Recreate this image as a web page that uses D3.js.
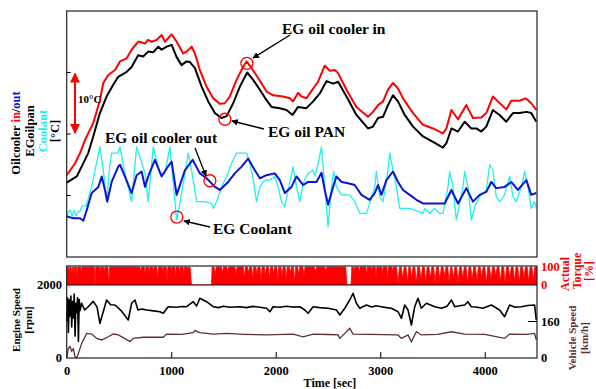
<!DOCTYPE html>
<html>
<head>
<meta charset="utf-8">
<script src="https://cdn.jsdelivr.net/npm/d3@7"></script>
<style>
  body { margin: 0; background: #fff; }
  svg { display: block; font-family: "Liberation Serif", "Times New Roman", serif; font-weight: bold; }
</style>
</head>
<body>
<svg id="chart" width="596" height="389"></svg>
<script>
// ---- data ----
// EG oil cooler in (red)
let oilInTime = [0, 79, 127, 175, 254, 318, 350, 398, 462, 510, 574, 621, 684, 701, 749, 777, 815, 860, 908, 940, 1004, 1052, 1115, 1147, 1195, 1227, 1274, 1338, 1402, 1466, 1513, 1561, 1625, 1688, 1721, 1769, 1832, 1912, 1975, 2071, 2135, 2166, 2214, 2247, 2294, 2358, 2405, 2469, 2517, 2565, 2597, 2677, 2772, 2883, 2931, 2979, 3027, 3074, 3122, 3170, 3218, 3314, 3409, 3505, 3600, 3633, 3681, 3744, 3824, 3887, 3967, 4015, 4078, 4126, 4206, 4254, 4333, 4391, 4445, 4493];
let oilInTemp = [53.3, 55.2, 56.9, 59.0, 61.8, 65.5, 68.3, 69.6, 70.4, 71.8, 72.3, 73.7, 75.0, 75.0, 74.7, 75.3, 75.0, 75.3, 76.1, 75.0, 76.2, 75.0, 73.1, 73.4, 74.2, 73.1, 70.4, 67.7, 65.8, 64.9, 65.0, 66.1, 68.8, 70.9, 71.8, 70.7, 69.1, 66.9, 66.3, 66.1, 65.8, 65.3, 66.7, 66.1, 65.8, 67.4, 68.5, 71.1, 70.3, 70.4, 69.9, 67.2, 64.4, 62.8, 63.6, 64.7, 65.3, 67.2, 68.3, 67.4, 65.8, 63.4, 61.5, 60.9, 60.1, 60.9, 63.9, 62.4, 64.7, 62.6, 62.7, 63.4, 66.1, 65.3, 64.0, 65.4, 65.4, 65.8, 65.0, 63.9];

// EG oil pan (black)
let oilPanTime = [0, 96, 143, 206, 254, 318, 382, 445, 493, 574, 621, 684, 732, 780, 828, 876, 908, 956, 1004, 1052, 1099, 1147, 1179, 1227, 1291, 1354, 1418, 1482, 1530, 1593, 1657, 1727, 1784, 1848, 1912, 1960, 2039, 2103, 2161, 2214, 2294, 2358, 2422, 2486, 2549, 2597, 2677, 2772, 2883, 2931, 2979, 3027, 3074, 3122, 3170, 3234, 3314, 3409, 3505, 3600, 3633, 3681, 3744, 3808, 3872, 3920, 3967, 4015, 4078, 4142, 4206, 4270, 4333, 4398, 4445, 4493];
let oilPanTemp = [52.1, 53.1, 54.7, 56.9, 59.6, 63.4, 66.1, 68.0, 69.3, 70.1, 70.9, 72.8, 72.6, 73.4, 73.3, 74.2, 73.7, 74.2, 74.5, 72.5, 71.2, 71.8, 71.7, 70.7, 67.7, 65.3, 63.4, 62.6, 62.9, 65.0, 67.7, 70.0, 68.8, 67.2, 65.5, 64.4, 64.2, 63.9, 63.1, 64.4, 64.2, 65.3, 66.6, 68.6, 68.2, 68.5, 66.1, 63.1, 60.9, 61.2, 62.6, 62.8, 64.7, 66.3, 65.3, 63.1, 61.2, 59.6, 58.7, 57.8, 58.5, 60.9, 60.4, 62.0, 60.9, 60.9, 60.4, 61.2, 63.9, 63.1, 62.0, 63.4, 63.4, 63.6, 63.4, 62.0];

// EG oil cooler out (blue)
let oilOutTime = [0, 63, 127, 159, 191, 239, 303, 335, 366, 388, 430, 493, 510, 557, 621, 669, 717, 749, 780, 844, 908, 956, 1004, 1052, 1131, 1179, 1205, 1274, 1338, 1418, 1466, 1545, 1609, 1673, 1736, 1800, 1848, 1912, 1991, 2039, 2087, 2151, 2199, 2262, 2310, 2390, 2438, 2469, 2501, 2549, 2581, 2629, 2692, 2756, 2820, 2899, 2947, 2979, 3011, 3059, 3122, 3170, 3218, 3282, 3346, 3409, 3505, 3617, 3681, 3744, 3824, 3887, 3951, 4015, 4063, 4110, 4190, 4254, 4317, 4398, 4445, 4493];
let oilOutTemp = [46.6, 46.3, 46.3, 45.9, 47.6, 50.4, 51.4, 53.1, 50.9, 49.0, 52.2, 54.7, 55.0, 53.1, 50.4, 53.3, 53.9, 51.4, 53.1, 55.8, 53.1, 54.4, 55.5, 50.1, 54.1, 55.2, 55.8, 53.6, 52.8, 51.4, 50.9, 52.2, 53.6, 54.7, 56.0, 54.1, 52.8, 53.3, 53.6, 52.5, 50.4, 51.4, 53.1, 51.7, 52.2, 52.2, 53.7, 50.9, 48.5, 51.4, 53.1, 52.2, 52.0, 51.7, 50.1, 49.3, 50.4, 51.7, 50.1, 52.5, 53.9, 52.2, 50.9, 50.1, 49.3, 48.7, 48.7, 48.7, 50.9, 48.7, 51.2, 49.0, 50.1, 50.6, 52.2, 51.2, 51.4, 52.2, 50.9, 52.5, 50.1, 50.4];

// EG coolant (cyan)
let coolantTime = [0, 12, 32, 51, 70, 89, 108, 127, 146, 185, 206, 239, 271, 318, 350, 382, 414, 430, 490, 510, 557, 621, 669, 701, 749, 780, 828, 892, 940, 988, 1036, 1052, 1083, 1131, 1163, 1195, 1243, 1322, 1386, 1402, 1434, 1482, 1530, 1577, 1625, 1721, 1752, 1784, 1816, 1848, 1896, 1944, 1991, 2023, 2055, 2087, 2119, 2166, 2199, 2230, 2262, 2310, 2358, 2374, 2405, 2438, 2469, 2501, 2533, 2555, 2581, 2629, 2708, 2756, 2804, 2868, 2899, 2947, 2963, 2995, 3027, 3074, 3091, 3122, 3155, 3186, 3282, 3409, 3425, 3473, 3521, 3569, 3600, 3648, 3664, 3696, 3728, 3760, 3792, 3808, 3840, 3872, 3904, 3951, 4015, 4047, 4078, 4110, 4142, 4190, 4238, 4270, 4302, 4350, 4382, 4414, 4445, 4477, 4493];
let coolantTemp = [46.0, 47.3, 47.6, 46.7, 47.6, 46.7, 47.4, 47.4, 48.3, 48.3, 49.5, 51.4, 54.1, 57.9, 54.1, 49.0, 55.2, 56.9, 56.9, 57.9, 53.6, 49.0, 57.9, 56.3, 53.6, 49.0, 57.9, 53.6, 53.6, 57.9, 49.0, 46.0, 48.7, 53.6, 56.9, 54.1, 49.0, 49.0, 48.7, 47.9, 49.0, 51.4, 53.1, 55.2, 56.9, 56.9, 55.2, 52.8, 49.0, 51.4, 52.5, 52.5, 53.1, 51.4, 49.0, 48.2, 50.9, 54.7, 51.4, 49.0, 52.0, 53.6, 54.1, 53.1, 55.2, 57.9, 51.4, 44.9, 51.4, 53.9, 51.4, 50.1, 50.1, 49.0, 47.1, 47.1, 48.7, 51.4, 53.9, 49.8, 49.0, 54.1, 56.9, 54.1, 51.4, 47.9, 47.9, 47.1, 47.9, 47.1, 47.9, 47.1, 47.1, 51.4, 53.9, 51.4, 46.0, 48.7, 51.4, 53.9, 51.4, 46.0, 48.2, 49.8, 50.9, 55.0, 54.1, 49.8, 49.0, 50.1, 53.1, 49.8, 49.0, 51.4, 53.9, 51.4, 47.9, 49.0, 47.9];

// actual torque envelope [%]
let torqueTime = [0, 6, 18, 24, 30, 42, 48, 54, 64, 70, 76, 94, 100, 106, 134, 140, 146, 264, 271, 278, 314, 320, 326, 354, 360, 366, 394, 402, 410, 700, 708, 716, 742, 750, 758, 784, 790, 796, 824, 830, 836, 862, 870, 878, 914, 920, 926, 952, 960, 968, 994, 1000, 1006, 1034, 1040, 1046, 1074, 1080, 1086, 1114, 1120, 1126, 1154, 1160, 1166, 1180, 1192, 1200, 1385, 1392,
    1410, 1420, 1430, 1480, 1490, 1500, 1530, 1540, 1550, 1610, 1620, 1630, 1690, 1700, 1710, 1730, 1740, 1750, 1770, 1780, 1790, 1810, 1820, 1830, 1850, 1860, 1870, 1890, 1900, 1910, 1930, 1940, 1950, 1970, 1980, 1990, 2010, 2020, 2030, 2050, 2060, 2070, 2090, 2100, 2110, 2130, 2140, 2150, 2170, 2180, 2190, 2210, 2220, 2230, 2260, 2270, 2280, 2370, 2380, 2390, 2470, 2480, 2490, 2670, 2680, 2720, 2728,
    2743, 2750, 2757, 2793, 2800, 2807, 2863, 2870, 2877, 2913, 2920, 2927, 2953, 2960, 2967, 3013, 3020, 3027, 3063, 3070, 3077, 3113, 3120, 3127,
    3156, 3170, 3184, 3201, 3215, 3229, 3246, 3260, 3274, 3286, 3300, 3314, 3331, 3345, 3359, 3376, 3390, 3404, 3421, 3435, 3449, 3466, 3480, 3494, 3511, 3525, 3539, 3556, 3570, 3584, 3601, 3615, 3629, 3646, 3660, 3674, 3686, 3700, 3714, 3731, 3745, 3759, 3776, 3790, 3804, 3821, 3835, 3849, 3866, 3880, 3894, 3911, 3925, 3939, 3956, 3970, 3984, 4001, 4015, 4029, 4046, 4060, 4074, 4091, 4105, 4119, 4136, 4150, 4164, 4181, 4195, 4209, 4226, 4240, 4254, 4271, 4285, 4299, 4316, 4330, 4344, 4361, 4375, 4389, 4406, 4420, 4434, 4451, 4465, 4479, 4500];
let torqueValue = [60, 100, 100, 70, 100, 100, 55, 100, 100, 60, 100, 100, 40, 100, 100, 70, 100, 100, 0, 100, 100, 60, 100, 100, 75, 100, 100, 0, 100, 100, 70, 100, 100, 60, 100, 100, 50, 100, 100, 70, 100, 100, 30, 100, 100, 60, 100, 100, 20, 100, 100, 75, 100, 100, 30, 100, 100, 60, 100, 100, 40, 100, 100, 80, 100, 100, 10, 0, 0, 100,
    100, 60, 100, 100, 70, 100, 100, 80, 100, 100, 60, 100, 100, 40, 100, 100, 70, 100, 100, 30, 100, 100, 60, 100, 100, 20, 100, 100, 50, 100, 100, 30, 100, 100, 60, 100, 100, 20, 100, 100, 50, 100, 100, 30, 100, 100, 70, 100, 100, 10, 100, 100, 60, 100, 100, 50, 100, 100, 70, 100, 100, 80, 100, 100, 0, 0, 100,
    100, 70, 100, 100, 60, 100, 100, 50, 100, 100, 80, 100, 100, 30, 100, 100, 60, 100, 100, 20, 100, 100, 70, 100,
    100, 10, 100, 100, 30, 100, 100, 10, 100, 100, 40, 100, 100, 10, 100, 100, 30, 100, 100, 10, 100, 100, 40, 100, 100, 10, 100, 100, 20, 100, 100, 50, 100, 100, 10, 100, 100, 30, 100, 100, 10, 100, 100, 40, 100, 100, 10, 100, 100, 30, 100, 100, 20, 100, 100, 40, 100, 100, 10, 100, 100, 30, 100, 100, 50, 100, 100, 20, 100, 100, 10, 100, 100, 40, 100, 100, 20, 100, 100, 10, 100, 100, 40, 100, 100, 20, 100, 100, 30, 100, 100];

// engine speed [rpm]
let engineTime = [0, 8, 16, 24, 32, 40, 48, 56, 64, 72, 80, 88, 96, 104, 112, 120, 128, 143, 172, 206, 254, 290, 318, 382, 420, 462, 520, 589, 621, 653, 682, 720, 768, 830, 892, 924, 971, 1050, 1100, 1147, 1211, 1243, 1274, 1338, 1402, 1450, 1500, 1560, 1657, 1720, 1780, 1850, 1912, 1944, 1975, 2040, 2100, 2160, 2230, 2279, 2310, 2358, 2420, 2501, 2581, 2613, 2661, 2708, 2740, 2772, 2804, 2868, 2920, 2960, 3011, 3060, 3107, 3170, 3203, 3234, 3266, 3298, 3330, 3361, 3393, 3442, 3521, 3585, 3640, 3681, 3712, 3760, 3808, 3839, 3872, 3930, 3983, 4063, 4142, 4190, 4238, 4290, 4350, 4410, 4477, 4493];
let engineRpm = [1000, 1650, 700, 1600, 1150, 1700, 850, 1550, 1100, 1750, 600, 1500, 1250, 1650, 450, 1600, 1300, 1500, 1315, 1405, 1550, 1400, 951, 1589, 1460, 1452, 1300, 1041, 1499, 1589, 1315, 1340, 1315, 1290, 1268, 1225, 1405, 1390, 1410, 1405, 1542, 1425, 1636, 1542, 1405, 1380, 1420, 1390, 1405, 1380, 1415, 1390, 1362, 1268, 1405, 1390, 1420, 1395, 1405, 1315, 1225, 1405, 1380, 1362, 1315, 1178, 1362, 1589, 1773, 1499, 1362, 1452, 1400, 1430, 1405, 1380, 1362, 1268, 1088, 1452, 1315, 904, 1405, 1636, 1362, 1499, 1405, 1362, 1420, 1589, 1405, 1430, 1452, 1542, 1405, 1390, 1362, 1452, 1315, 1132, 1452, 1390, 1405, 1440, 1452, 1041];

// vehicle speed [km/h]
let vehicleTime = [0, 16, 32, 48, 64, 80, 96, 112, 143, 191, 239, 287, 335, 398, 446, 494, 606, 637, 733, 924, 956, 1100, 1211, 1227, 1274, 1402, 1530, 1700, 1912, 2167, 2262, 2358, 2500, 2597, 2613, 2661, 2708, 2740, 2900, 3170, 3203, 3266, 3298, 3346, 3393, 3550, 3681, 3808, 4000, 4190, 4238, 4400, 4477, 4493];
let vehicleKmh = [0, 42, 50, 30, 40, 5, 0, 20, 64, 108, 105, 86, 79, 93, 105, 101, 72, 86, 91, 91, 105, 104, 111, 120, 111, 105, 108, 104, 101, 105, 93, 105, 103, 101, 86, 108, 130, 105, 104, 101, 86, 101, 71, 115, 101, 104, 115, 105, 104, 86, 105, 104, 108, 80];

let timeTicks = [0, 1000, 2000, 3000, 4000];

// ---- chart ----
let svg = d3.select("#chart");
let left = 66.7, right = 537;

let x = d3.scaleLinear().domain([0, 4500]).range([left, right]);
let yTemp = d3.scaleLinear().domain([40, 80]).range([257, 11]);
let yTorque = d3.scaleLinear().domain([0, 100]).range([285, 267]);
let yRpm = d3.scaleLinear().domain([0, 2000]).range([358, 285]);
let yKmh = d3.scaleLinear().domain([0, 320]).range([358, 285]);

function zip(ts, vs) {
    return ts.map((t, i) => ({ t: t, v: vs[i] }));
}

let defs = svg.append("defs");
defs.append("clipPath").attr("id", "clipTop")
    .append("rect").attr("x", left).attr("y", 11).attr("width", right - left).attr("height", 246);
defs.append("clipPath").attr("id", "clipTq")
    .append("rect").attr("x", left).attr("y", 266).attr("width", right - left).attr("height", 19);

// arrow markers
[["arrowBlack", "#000"], ["arrowRed", "#f00"]].forEach(([id, col]) => {
    defs.append("marker")
        .attr("id", id)
        .attr("viewBox", "0 0 10 10")
        .attr("refX", 9).attr("refY", 5)
        .attr("markerWidth", 5).attr("markerHeight", 5)
        .attr("orient", "auto-start-reverse")
        .attr("markerUnits", "strokeWidth")
        .append("path").attr("d", "M0,0 L10,5 L0,10 z").attr("fill", col);
});

// top panel lines
let tempLine = d3.line().x(d => x(d.t)).y(d => yTemp(d.v));
let topG = svg.append("g").attr("clip-path", "url(#clipTop)");

let topSeries = [
    { data: zip(coolantTime, coolantTemp), color: "#22f0f0", width: 1.3 },
    { data: zip(oilOutTime, oilOutTemp), color: "#0a14d2", width: 2 },
    { data: zip(oilInTime, oilInTemp), color: "#ff0000", width: 2 },
    { data: zip(oilPanTime, oilPanTemp), color: "#000000", width: 2 }
];
topSeries.forEach(s => {
    topG.append("path")
        .datum(s.data)
        .attr("d", tempLine)
        .attr("fill", "none")
        .attr("stroke", s.color)
        .attr("stroke-width", s.width)
        .attr("stroke-linejoin", "round");
});

// top frame
svg.append("rect").attr("x", left).attr("y", 11).attr("width", right - left).attr("height", 246)
    .attr("fill", "none").attr("stroke", "#222").attr("stroke-width", 1.2);
[50, 60, 70].forEach(v => {
    svg.append("line").attr("x1", left).attr("x2", left + 4)
        .attr("y1", yTemp(v)).attr("y2", yTemp(v)).attr("stroke", "#000");
});

// 10 degC scale arrow
svg.append("line")
    .attr("x1", 75).attr("x2", 75)
    .attr("y1", yTemp(70) + 1).attr("y2", yTemp(60) - 1)
    .attr("stroke", "#f00").attr("stroke-width", 2)
    .attr("marker-start", "url(#arrowRed)").attr("marker-end", "url(#arrowRed)");
svg.append("text").attr("x", 78).attr("y", 103).attr("font-size", 11).text("10°C");

// annotations
let notes = [
    { label: "EG oil cooler in", t: 1724, v: 71.5, tx: 282, ty: 34, ax: 290, ay: 35, bx: 253, by: 58 },
    { label: "EG oil PAN", t: 1513, v: 62.4, tx: 268, ty: 137, ax: 264, ay: 129, bx: 232, by: 121 },
    { label: "EG oil cooler out", t: 1370, v: 52.4, tx: 105, ty: 143, ax: 195, ay: 148, bx: 206, by: 176 },
    { label: "EG Coolant", t: 1054, v: 46.5, tx: 213, ty: 234, ax: 210, ay: 227, bx: 184, by: 221 }
];
notes.forEach(n => {
    svg.append("circle")
        .attr("cx", x(n.t)).attr("cy", yTemp(n.v)).attr("r", 6)
        .attr("fill", "none").attr("stroke", "#f00").attr("stroke-width", 1.3);
    svg.append("line")
        .attr("x1", n.ax).attr("y1", n.ay).attr("x2", n.bx).attr("y2", n.by)
        .attr("stroke", "#000").attr("stroke-width", 1.3)
        .attr("marker-end", "url(#arrowBlack)");
    svg.append("text").attr("x", n.tx).attr("y", n.ty).attr("font-size", 15.5).text(n.label);
});

// top y title
let topTitle = svg.append("g").attr("font-size", 12.5);
let t1 = topTitle.append("text").attr("transform", "translate(16,133) rotate(-90)")
    .attr("text-anchor", "middle").attr("dy", "0.35em");
t1.append("tspan").text("Oilcooler ");
t1.append("tspan").attr("fill", "#f00").text("in");
t1.append("tspan").text("/");
t1.append("tspan").attr("fill", "#0a14d2").text("out");
topTitle.append("text").attr("transform", "translate(30,131) rotate(-90)")
    .attr("text-anchor", "middle").attr("dy", "0.35em").text("EGoilpan");
topTitle.append("text").attr("transform", "translate(43,131) rotate(-90)")
    .attr("text-anchor", "middle").attr("dy", "0.35em").attr("fill", "#22f0f0").text("Coolant");
topTitle.append("text").attr("transform", "translate(55,131) rotate(-90)")
    .attr("text-anchor", "middle").attr("dy", "0.35em").text("[°C]");

// ---- bottom panel ----
let torqueArea = d3.area().x(d => x(d.t)).y0(yTorque(0)).y1(d => yTorque(d.v));
svg.append("g").attr("clip-path", "url(#clipTq)")
    .append("path")
    .datum(zip(torqueTime, torqueValue))
    .attr("d", torqueArea)
    .attr("fill", "#ff0000")
    .attr("stroke", "#ff0000")
    .attr("stroke-width", 0.8);

let rpmLine = d3.line().x(d => x(d.t)).y(d => yRpm(d.v));
let kmhLine = d3.line().x(d => x(d.t)).y(d => yKmh(d.v));
svg.append("path").datum(zip(vehicleTime, vehicleKmh)).attr("d", kmhLine)
    .attr("fill", "none").attr("stroke", "#5e3030").attr("stroke-width", 1.3);
svg.append("path").datum(zip(engineTime, engineRpm)).attr("d", rpmLine)
    .attr("fill", "none").attr("stroke", "#000").attr("stroke-width", 1.6).attr("stroke-linejoin", "round");

// bottom frame
svg.append("rect").attr("x", left).attr("y", 266).attr("width", right - left).attr("height", 92)
    .attr("fill", "none").attr("stroke", "#222").attr("stroke-width", 1.2);
svg.append("line").attr("x1", left).attr("x2", right).attr("y1", 285).attr("y2", 285)
    .attr("stroke", "#111").attr("stroke-width", 1.1);
svg.append("line").attr("x1", right - 9).attr("x2", right).attr("y1", yKmh(160)).attr("y2", yKmh(160))
    .attr("stroke", "#000");

// x axis
let xAxis = d3.axisBottom(x).tickValues(timeTicks).tickFormat(d3.format("d"))
    .tickSizeInner(-6).tickSizeOuter(0).tickPadding(8);
let xg = svg.append("g").attr("transform", "translate(0,358)").call(xAxis);
xg.select(".domain").remove();
xg.selectAll("text").attr("font-size", 12.5).attr("font-family", "Liberation Serif").attr("font-weight", "bold").attr("fill", "#000");
xg.selectAll("line").filter(d => d === 0).remove();
svg.append("text").attr("x", 330).attr("y", 387).attr("text-anchor", "middle").attr("font-size", 12).text("Time [sec]");

// y tick labels of bottom panel
let labels = svg.append("g").attr("font-size", 12.5);
[[2000, yRpm(2000)], [0, yRpm(0)]].forEach(([v, y]) => {
    labels.append("text").attr("x", 62).attr("y", y).attr("dy", "0.35em").attr("text-anchor", "end").text(v);
});
[[100, yTorque(100)], [0, yTorque(0)]].forEach(([v, y]) => {
    labels.append("text").attr("x", 541).attr("y", y).attr("dy", "0.35em").attr("fill", "#f00").text(v);
});
[[160, yKmh(160)], [0, yKmh(0)]].forEach(([v, y]) => {
    labels.append("text").attr("x", 541).attr("y", y).attr("dy", "0.35em").text(v);
});

// bottom axis titles
let bt = svg.append("g").attr("font-size", 11);
bt.append("text").attr("transform", "translate(16,320) rotate(-90)").attr("text-anchor", "middle").attr("dy", "0.35em").text("Engine Speed");
bt.append("text").attr("transform", "translate(28,320) rotate(-90)").attr("text-anchor", "middle").attr("dy", "0.35em").text("[rpm]");
let tq = svg.append("g").attr("font-size", 12).attr("fill", "#f00");
tq.append("text").attr("transform", "translate(565,274) rotate(-90)").attr("text-anchor", "middle").attr("dy", "0.35em").text("Actual");
tq.append("text").attr("transform", "translate(577,271) rotate(-90)").attr("text-anchor", "middle").attr("dy", "0.35em").text("Torque");
tq.append("text").attr("transform", "translate(589,271) rotate(-90)").attr("text-anchor", "middle").attr("dy", "0.35em").text("[%]");
let vs = svg.append("g").attr("font-size", 11).attr("fill", "#5e3030");
vs.append("text").attr("transform", "translate(572,338) rotate(-90)").attr("text-anchor", "middle").attr("dy", "0.35em").text("Vehicle Speed");
vs.append("text").attr("transform", "translate(584,338) rotate(-90)").attr("text-anchor", "middle").attr("dy", "0.35em").text("[km/h]");
</script>
</body>
</html>
